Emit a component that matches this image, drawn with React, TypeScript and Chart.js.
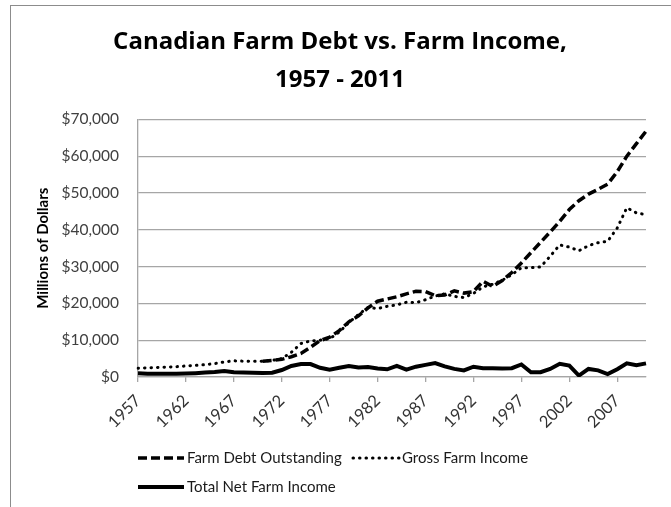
import { useEffect, useRef } from 'react';
import { Chart, registerables } from 'chart.js';

Chart.register(...registerables);

const years = [
  1957, 1958, 1959, 1960, 1961, 1962, 1963, 1964, 1965, 1966,
  1967, 1968, 1969, 1970, 1971, 1972, 1973, 1974, 1975, 1976,
  1977, 1978, 1979, 1980, 1981, 1982, 1983, 1984, 1985, 1986,
  1987, 1988, 1989, 1990, 1991, 1992, 1993, 1994, 1995, 1996,
  1997, 1998, 1999, 2000, 2001, 2002, 2003, 2004, 2005, 2006,
  2007, 2008, 2009, 2010,
];

const farmDebt = [
  null, null, null, null, null, null, null, null, null, null,
  null, null, null, 4300, 4500, 4800, 5500, 6400, 8100, 9900,
  10800, 12600, 15000, 16600, 18800, 20600, 21200, 21800, 22600, 23300,
  23200, 22100, 22300, 23400, 22800, 23200, 26000, 24600, 26200, 28400,
  31000, 33800, 36600, 39400, 42300, 45500, 47900, 49700, 51000, 52400,
  55800, 60000, 63400, 66800,
];

const grossIncome = [
  2400, 2500, 2600, 2700, 2800, 3000, 3150, 3350, 3650, 4100,
  4400, 4300, 4250, 4300, 4500, 5000, 6700, 9100, 9800, 10000,
  10400, 12200, 14800, 17000, 18900, 18600, 19200, 19600, 20300, 20200,
  21000, 22000, 22600, 21900, 21600, 22700, 24500, 25200, 26300, 27800,
  29700, 29700, 29900, 32800, 35900, 35300, 34300, 35700, 36500, 36900,
  40500, 46000, 44600, 44100,
];

const netIncome = [
  1000, 900, 850, 850, 900, 950, 1050, 1200, 1350, 1650,
  1300, 1200, 1150, 1100, 1150, 1900, 3000, 3500, 3500, 2500,
  2000, 2500, 3000, 2600, 2700, 2300, 2100, 3000, 2000, 2800,
  3300, 3800, 2900, 2200, 1800, 2800, 2400, 2400, 2300, 2400,
  3400, 1300, 1300, 2200, 3600, 3100, 400, 2200, 1800, 800,
  2100, 3700, 3200, 3700,
];

const seriesNames = ['Farm Debt Outstanding', 'Gross Farm Income', 'Total Net Farm Income'];
const titleLines = ['Canadian Farm Debt vs. Farm Income,', '1957 - 2011'];
const yAxisTitle = 'Millions of Dollars';
const yMin = 0;
const yMax = 70000;
const yStep = 10000;

const FONT = 'Lato';
const GRID = '#a6a6a6';

const legendSlots = [
  { x: 138, y: 458 },
  { x: 353, y: 458 },
  { x: 138, y: 487 },
];

const bottomLegend = {
  id: 'bottomLegend',
  afterDraw(chart: any) {
    const ctx = chart.ctx;
    ctx.save();
    chart.data.datasets.forEach((ds: any, i: number) => {
      const s = legendSlots[i];
      ctx.beginPath();
      ctx.setLineDash(ds.borderDash || []);
      ctx.lineWidth = ds.borderWidth;
      ctx.strokeStyle = ds.borderColor;
      ctx.lineCap = ds.borderCapStyle || 'butt';
      ctx.moveTo(s.x, s.y);
      ctx.lineTo(s.x + 46, s.y);
      ctx.stroke();
      ctx.setLineDash([]);
      ctx.font = `15px ${FONT}`;
      ctx.fillStyle = '#1a1a1a';
      ctx.textBaseline = 'middle';
      ctx.textAlign = 'left';
      ctx.fillText(ds.label, s.x + 49, s.y);
    });
    ctx.restore();
  },
};

export default function App() {
  const canvasRef = useRef<HTMLCanvasElement | null>(null);

  useEffect(() => {
    if (!canvasRef.current) return;
    const chart = new Chart(canvasRef.current, {
      type: 'line',
      data: {
        labels: years,
        datasets: [
          {
            label: seriesNames[0],
            data: farmDebt,
            borderColor: '#000',
            borderWidth: 3.5,
            borderDash: [9, 4],
            borderCapStyle: 'butt',
            pointRadius: 0,
            tension: 0,
            fill: false,
          },
          {
            label: seriesNames[1],
            data: grossIncome,
            borderColor: '#000',
            borderWidth: 3,
            borderDash: [0.5, 6],
            borderCapStyle: 'round',
            pointRadius: 0,
            tension: 0,
            fill: false,
          },
          {
            label: seriesNames[2],
            data: netIncome,
            borderColor: '#000',
            borderWidth: 4,
            borderCapStyle: 'butt',
            pointRadius: 0,
            tension: 0,
            fill: false,
          },
        ],
      },
      options: {
        animation: false,
        responsive: true,
        maintainAspectRatio: false,
        devicePixelRatio: 1,
        layout: { padding: { left: 34, right: 25, top: 0, bottom: 0 } },
        plugins: {
          legend: { display: false },
          tooltip: { enabled: false },
          title: {
            display: true,
            text: titleLines,
            color: '#000',
            font: { family: 'Open Sans', size: 24, weight: 'bold', lineHeight: 1.55 },
            padding: { top: 24, bottom: 21 },
          },
        },
        scales: {
          x: {
            type: 'category',
            offset: false,
            grid: {
              drawOnChartArea: false,
              drawTicks: true,
              tickLength: 5,
              color: (c: any) => (c.index % 5 === 0 ? GRID : 'rgba(0,0,0,0)'),
              lineWidth: 1.3,
            },
            border: { display: true, color: GRID, width: 1.3 },
            ticks: {
              autoSkip: false,
              maxRotation: 45,
              minRotation: 45,
              padding: 9,
              color: '#333333',
              font: { family: FONT, size: 16.5 },
              callback: (_v: any, idx: number) => (idx % 5 === 0 ? String(years[idx]) : ''),
            },
            afterFit: (scale: any) => {
              scale.height = 130;
            },
          },
          y: {
            min: yMin,
            max: yMax,
            grid: { color: GRID, lineWidth: 1.3, drawTicks: false },
            border: { display: true, color: GRID, width: 1.3 },
            ticks: {
              stepSize: yStep,
              padding: 19,
              color: '#404040',
              font: { family: FONT, size: 15.5 },
              callback: (v: any) => '$' + Number(v).toLocaleString('en-US'),
            },
            title: {
              display: true,
              text: yAxisTitle,
              color: '#000',
              font: { family: FONT, size: 15, weight: 'bold' },
              padding: 0,
            },
            afterFit: (scale: any) => {
              scale.width = 104;
            },
          },
        },
      },
      plugins: [bottomLegend],
    } as any);
    return () => chart.destroy();
  }, []);

  return (
    <div style={{ position: 'fixed', left: 0, top: 0, width: 671, height: 507, background: '#fff' }}>
      <div
        style={{
          position: 'absolute',
          left: 10,
          top: 5,
          width: 700,
          height: 600,
          borderLeft: '1px solid #8c8c8c',
          borderTop: '1px solid #8c8c8c',
        }}
      />
      <canvas ref={canvasRef} style={{ position: 'absolute', left: 0, top: 0 }} />
    </div>
  );
}
